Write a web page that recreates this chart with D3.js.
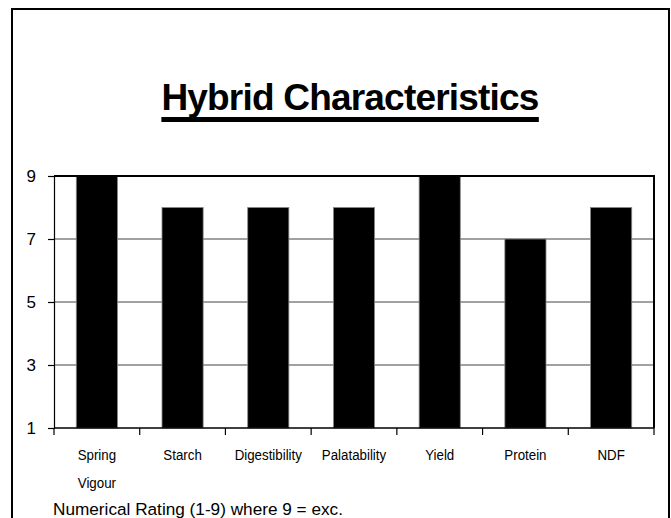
<!DOCTYPE html>
<html><head><meta charset="utf-8">
<script src="https://cdn.jsdelivr.net/npm/d3@7"></script>
<style>body{margin:0;background:#fff}svg{display:block}</style>
</head><body>
<script>
const categories = [["Spring","Vigour"],["Starch"],["Digestibility"],["Palatability"],["Yield"],["Protein"],["NDF"]];
const values = [9, 8, 8, 8, 9, 7, 8];
const yTicks = [1, 3, 5, 7, 9];
const title = "Hybrid Characteristics";
const footnote = "Numerical Rating (1-9) where 9 = exc.";

const W = 671, H = 518;
const m = {left: 54, right: 17, top: 176, bottom: 90};
const svg = d3.select("body").append("svg").attr("width", W).attr("height", H);

// outer border (top, left, right)
svg.append("path").attr("d", `M12,${H+2} L12,9 L669,9 L669,${H+2}`)
  .attr("fill","none").attr("stroke","#000").attr("stroke-width",2);

const x = d3.scaleBand().domain(d3.range(categories.length)).range([m.left, W - m.right]).paddingInner(0.52).paddingOuter(0.26);
const xb = d3.scaleBand().domain(d3.range(categories.length)).range([m.left, W - m.right]);
const y = d3.scaleLinear().domain([1, 9]).range([H - m.bottom, m.top]);

// gridlines
svg.append("g").selectAll("line").data(yTicks.filter(t => t > 1 && t < 9)).join("line")
  .attr("x1", m.left).attr("x2", W - m.right).attr("y1", d => y(d)).attr("y2", d => y(d))
  .attr("stroke", "#444").attr("stroke-width", 1.2);

// bars
svg.append("g").selectAll("rect").data(values).join("rect")
  .attr("x", (d,i) => x(i)).attr("width", x.bandwidth())
  .attr("y", d => y(d)).attr("height", d => y(1) - y(d))
  .attr("fill", "#000").attr("stroke", "#888").attr("stroke-width", 0.8);

// plot frame top & right
svg.append("path").attr("d", `M${m.left},${y(9)} L${W-m.right},${y(9)} L${W-m.right},${y(1)}`)
  .attr("fill","none").attr("stroke","#000").attr("stroke-width",2);

// y axis
const yAxis = svg.append("g").attr("transform", `translate(${m.left},0)`)
  .call(d3.axisLeft(y).tickValues(yTicks).tickSize(6).tickPadding(12).tickFormat(d3.format("d")));
yAxis.select(".domain").attr("stroke","#000").attr("stroke-width",1.2);
yAxis.selectAll(".tick line").attr("stroke","#000").attr("stroke-width",1.2);
yAxis.selectAll("text").attr("font-family","'Liberation Sans', Arial, sans-serif").attr("font-size",17).attr("fill","#000");

// x axis
const xAxisG = svg.append("g").attr("transform", `translate(0,${y(1)})`);
xAxisG.append("line").attr("x1", m.left).attr("x2", W - m.right).attr("stroke","#000").attr("stroke-width",1.5);
xAxisG.selectAll("line.tk").data(d3.range(categories.length + 1)).join("line").attr("class","tk")
  .attr("x1", i => i < categories.length ? xb(i) : W - m.right)
  .attr("x2", i => i < categories.length ? xb(i) : W - m.right)
  .attr("y1", 0).attr("y2", 7).attr("stroke","#000").attr("stroke-width",1.2);
xAxisG.selectAll("text.lab").data(categories).join("text").attr("class","lab")
  .attr("transform", (d,i) => `translate(${xb(i) + xb.bandwidth()/2},0) scale(0.87,1)`)
  .attr("text-anchor","middle")
  .attr("font-family","'Liberation Sans', Arial, sans-serif")
  .attr("font-size",15.3).attr("fill","#000")
  .each(function(d){
    d3.select(this).selectAll("tspan").data(d).join("tspan")
      .attr("x", 0).attr("y", (t,j) => 32 + j*28).text(t => t);
  });

// title
const tt = svg.append("text").attr("x", 350).attr("y", 110).attr("text-anchor","middle")
  .attr("font-family","'Liberation Sans', Arial, sans-serif").attr("font-weight","bold")
  .attr("font-size",37).attr("letter-spacing", -0.8).attr("fill","#000").text(title);
const bb = tt.node().getBBox();
svg.append("rect").attr("x", bb.x).attr("width", bb.width).attr("y", 117).attr("height", 5).attr("fill","#000");

// footnote
svg.append("text").attr("x", 53).attr("y", 515)
  .attr("font-family","'Liberation Sans', Arial, sans-serif")
  .attr("font-size",17.2).attr("fill","#000").text(footnote);
</script>
</body></html>
